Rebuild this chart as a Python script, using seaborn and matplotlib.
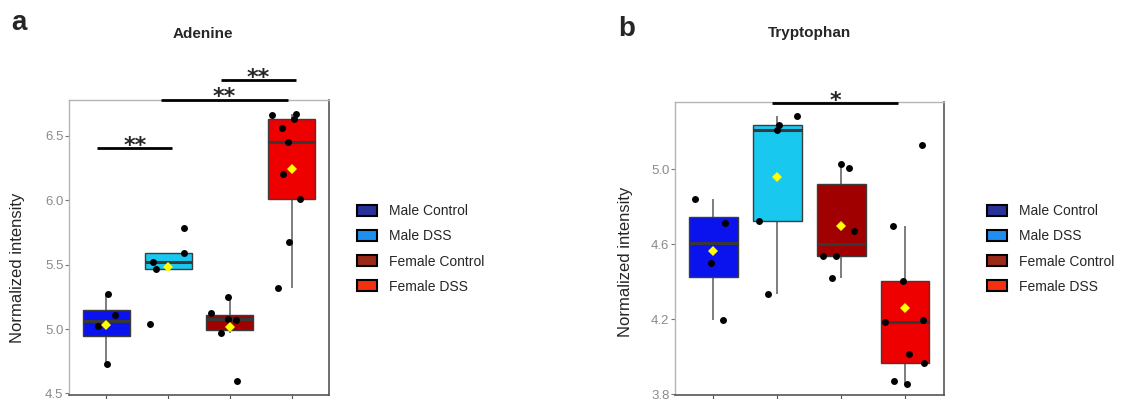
#%% Standard modules
import numpy as np
import pandas as pd
import matplotlib
matplotlib.use("Agg")
import matplotlib.pyplot as plt
from matplotlib.patches import Patch
import seaborn as sns

#%% Data
groups = ["Male Control", "Male DSS", "Female Control", "Female DSS"]

# Adenine
adenine_male_ctrl = [5.271, 5.112, 5.020, 4.729]
adenine_male_dss = [5.787, 5.587, 5.524, 5.465, 5.038]
adenine_female_ctrl = [5.248, 5.125, 5.076, 5.074, 4.969, 4.596]
adenine_female_dss = [6.671, 6.659, 6.628, 6.559, 6.451, 6.201, 6.009, 5.679, 5.319]

# Tryptophan
trp_male_ctrl = [4.842, 4.713, 4.501, 4.196]
trp_male_dss = [5.285, 5.235, 5.208, 4.725, 4.334]
trp_female_ctrl = [5.030, 5.005, 4.672, 4.536, 4.536, 4.419]
trp_female_dss = [5.129, 4.695, 4.403, 4.196, 4.187, 4.014, 3.966, 3.872, 3.853]

adenine_ticks = [4.5, 5.0, 5.5, 6.0, 6.5]
trp_ticks = [3.8, 4.2, 4.6, 5.0]

# significance bars: (from category, to category, level, label)
adenine_sig = [(-0.14, 1.07, 6.405, "**"), (0.88, 2.93, 6.781, "**"), (1.86, 3.06, 6.933, "**")]
trp_sig = [(0.92, 2.89, 5.352, "*")]

#%% Styles
box_colors = ["#0a12ee", "#18c8ee", "#a00000", "#ee0000"]
legend_colors = ["#28309a", "#1e8ff0", "#9a2a18", "#f4300f"]

sns.set_style("white")
plt.rcParams["font.family"] = ["Liberation Sans", "DejaVu Sans"]

W, H = 1121, 399


def make_df(values):
    rows = []
    for g, vals in zip(groups, values):
        for v in vals:
            rows.append({"group": g, "value": v})
    return pd.DataFrame(rows)


def draw_panel(ax, df, ticks, ylim, sig, seed):
    # boxes
    sns.boxplot(data=df, x="group", y="value", hue="group", order=groups, hue_order=groups,
                palette=box_colors, saturation=1, width=0.76, showfliers=False, showcaps=False,
                linecolor="#3c3c3c", linewidth=1.0, legend=False, ax=ax,
                boxprops={"zorder": 2},
                whiskerprops={"color": "#5a5a5a", "linewidth": 1.1, "zorder": 1},
                medianprops={"color": "#383838", "linewidth": 2.2, "zorder": 2.5})
    # jittered points
    np.random.seed(seed)
    sns.stripplot(data=df, x="group", y="value", order=groups, color="black",
                  jitter=0.33, size=5, linewidth=0, ax=ax, zorder=3)
    # group means
    sns.pointplot(data=df, x="group", y="value", order=groups, estimator="mean",
                  errorbar=None, linestyle="none", marker="D", color="#ffff00",
                  markersize=5, markeredgewidth=0, ax=ax, zorder=4)

    ax.set_ylim(*ylim)
    ax.set_xlim(-0.6, 3.6)
    ax.set_yticks(ticks)
    ax.set_yticklabels([f"{t:.1f}" for t in ticks])
    ax.set_xticklabels([])
    ax.set_xlabel("")
    ax.tick_params(axis="y", length=3, width=0.8, color="#777777", labelcolor="#8a8a8a",
                   labelsize=9.5, pad=1, left=True)
    ax.tick_params(axis="x", length=4, width=0.8, color="#555555", bottom=True)

    for side in ["left", "top"]:
        ax.spines[side].set_color("#b5b5b5")
        ax.spines[side].set_linewidth(1.0)
    for side in ["right", "bottom"]:
        ax.spines[side].set_color("#555555")
        ax.spines[side].set_linewidth(1.2)

    # significance bars
    for x1, x2, y, label in sig:
        ax.plot([x1, x2], [y, y], color="black", linewidth=2.0, clip_on=False, zorder=5,
                solid_capstyle="butt")
        ax.annotate(label, xy=((x1 + x2) / 2, y), xytext=(0, -2.5), textcoords="offset points",
                    ha="center", va="baseline", fontsize=16, fontweight="bold",
                    family="DejaVu Sans", annotation_clip=False)


fig = plt.figure(figsize=(W / 100, H / 100), dpi=100)

ax_a = fig.add_axes([69 / W, 4 / H, 260 / W, 295 / H])
ax_b = fig.add_axes([675 / W, 4 / H, 268.5 / W, 292.7 / H])

df_a = make_df([adenine_male_ctrl, adenine_male_dss, adenine_female_ctrl, adenine_female_dss])
df_b = make_df([trp_male_ctrl, trp_male_dss, trp_female_ctrl, trp_female_dss])

draw_panel(ax_a, df_a, adenine_ticks, (4.488, 6.779), adenine_sig, 3)
draw_panel(ax_b, df_b, trp_ticks, (3.795, 5.358), trp_sig, 7)

ax_a.set_ylabel("Normalized intensity", fontsize=12)
ax_a.yaxis.set_label_coords(-0.169, 0.43)
ax_b.set_ylabel("Normalized intensity", fontsize=12)
ax_b.yaxis.set_label_coords(-0.156, 0.455)

# titles and panel letters
fig.text(203 / W, 1 - 34 / H, "Adenine", ha="center", va="center", fontsize=11, fontweight="bold")
fig.text(809 / W, 1 - 33 / H, "Tryptophan", ha="center", va="center", fontsize=11, fontweight="bold")
fig.text(11 / W, 1 - 30 / H, "a", ha="left", va="baseline", fontsize=20, fontweight="bold")
fig.text(618 / W, 1 - 36 / H, "b", ha="left", va="baseline", fontsize=20, fontweight="bold")

# legends
handles = [Patch(facecolor=c, edgecolor="black", linewidth=1.5) for c in legend_colors]
for x0 in [357, 987]:
    fig.legend(handles, groups, loc="upper left", bbox_to_anchor=(x0 / W, 1 - 204 / H),
               frameon=False, fontsize=10, borderpad=0, borderaxespad=0,
               handlelength=1.45, handleheight=0.85, handletextpad=0.85, labelspacing=0.81)

fig.savefig("out.png", dpi=100)
